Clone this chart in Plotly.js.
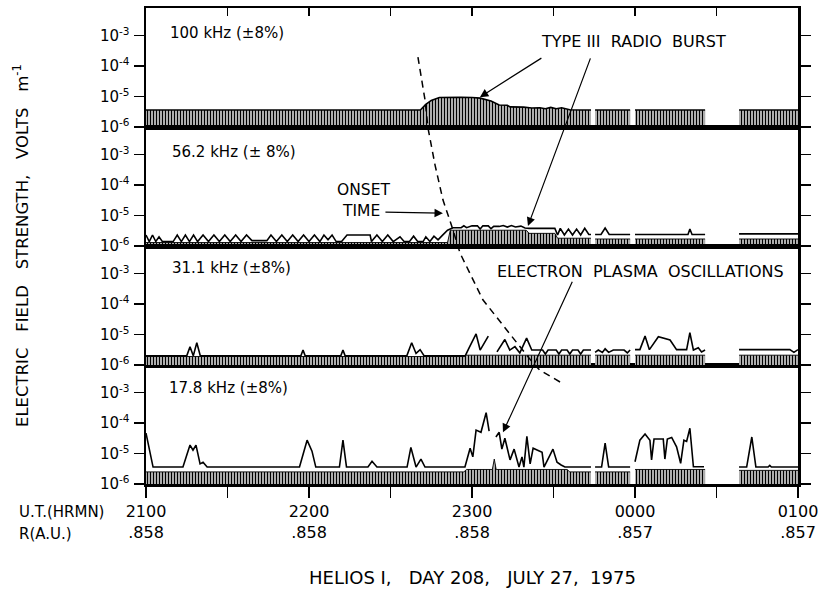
<!DOCTYPE html>
<html>
<head>
<meta charset="utf-8">
<script src="https://cdn.plot.ly/plotly-3.0.1.min.js"></script>
<style>html,body{margin:0;padding:0;background:#fff;}</style>
</head>
<body>
<div id="chart" style="width:820px;height:591px;"></div>
<script>
// ---- DATA (time = minutes after 2100 UT; values in V/m) ----
const UT_LABELS = ['2100', '2200', '2300', '0000', '0100'];
const R_LABELS = ['.858', '.858', '.858', '.857', '.857'];
const PANEL_LABELS = ['100 kHz (±8%)', '56.2 kHz (± 8%)', '31.1 kHz (±8%)', '17.8 kHz (±8%)'];

// 100 kHz : average (hatched) = peak outline
const AV_100 = [[0,3.6e-6],[40,3.6e-6],[80,3.6e-6],[101,3.6e-6],[103,5.5e-6],[105,7.5e-6],[108,9.3e-6],[112,9.6e-6],[116,9.5e-6],[120,9.3e-6],[123,8.9e-6],[127,7.2e-6],[130,5.3e-6],[133,5.2e-6],[134,4.6e-6],[139,4.5e-6],[142,4.2e-6],[145,4.3e-6],[147,4.0e-6],[149,4.4e-6],[151,4.0e-6],[153,4.3e-6],[156,3.7e-6],[160,3.6e-6],[163.8,3.6e-6],[null,null],[165.3,3.6e-6],[178.2,3.6e-6],[null,null],[180,3.6e-6],[205.8,3.6e-6],[null,null],[218.3,3.6e-6],[240,3.6e-6]];

// 56.2 kHz
const PK_56 = [[0,2.3e-6],[1.2,1.4e-6],[2.4,2.3e-6],[3.6,1.4e-6],[4.8,2.0e-6],[6,1.4e-6],[10,1.4e-6],[11.5,2.3e-6],[13,1.4e-6],[14.5,2.3e-6],[16,1.4e-6],[17.5,2.3e-6],[19,1.4e-6],[21,2.3e-6],[23,1.4e-6],[25,2.3e-6],[27,1.4e-6],[29,2.3e-6],[31,1.4e-6],[33,2.3e-6],[35,1.4e-6],[37,2.3e-6],[39,1.5e-6],[44.5,1.5e-6],[46,2.3e-6],[48,1.4e-6],[50,2.3e-6],[52,1.4e-6],[54,2.3e-6],[56,1.4e-6],[58,2.3e-6],[60,1.4e-6],[62,2.3e-6],[64,1.4e-6],[65.5,2.3e-6],[67,1.6e-6],[68.5,2.3e-6],[70,1.4e-6],[72,1.4e-6],[74,2.3e-6],[82.5,2.3e-6],[83,1.4e-6],[85,2.3e-6],[87,1.4e-6],[89,2.3e-6],[91,1.4e-6],[93.5,2.0e-6],[95,1.4e-6],[97,1.4e-6],[98.5,2.1e-6],[100,1.4e-6],[102,1.4e-6],[103,2.0e-6],[104.5,1.4e-6],[106,2.1e-6],[107.5,1.6e-6],[109,2.2e-6],[111,3.3e-6],[113,4.0e-6],[116,4.0e-6],[117,4.6e-6],[118,4.0e-6],[120,4.6e-6],[122,4.6e-6],[123,3.6e-6],[124,4.6e-6],[126,4.6e-6],[127,3.7e-6],[128,4.4e-6],[130,4.4e-6],[131.5,4.7e-6],[133,4.2e-6],[134.5,4.7e-6],[136,4.2e-6],[138,4.5e-6],[139.5,3.9e-6],[141,3.8e-6],[150.5,3.8e-6],[151.5,2.3e-6],[152.5,3.8e-6],[154,2.3e-6],[155.5,3.6e-6],[157,2.3e-6],[158.5,3.6e-6],[160,2.3e-6],[161.5,3.8e-6],[163,2.4e-6],[163.8,2.4e-6],[null,null],[165.3,2.4e-6],[167.5,2.4e-6],[169,3.9e-6],[170.5,2.4e-6],[178.2,2.4e-6],[null,null],[180,2.4e-6],[199.5,2.4e-6],[200.2,3.6e-6],[201,2.4e-6],[205.8,2.4e-6],[null,null],[218.3,2.5e-6],[240,2.5e-6]];
const AV_56 = [[0,1.3e-6],[111,1.3e-6],[112,3.3e-6],[140,3.3e-6],[141,2.6e-6],[150.5,2.6e-6],[151.5,1.8e-6],[163.8,1.8e-6],[null,null],[165.3,1.7e-6],[178.2,1.7e-6],[null,null],[180,1.7e-6],[205.8,1.7e-6],[null,null],[218.3,1.7e-6],[240,1.7e-6]];

// 31.1 kHz
const PK_31 = [[0,2.0e-6],[15,2.0e-6],[16.2,4.0e-6],[17.4,2.0e-6],[18.7,5.4e-6],[20,2.0e-6],[57,2.0e-6],[57.8,3.1e-6],[58.6,2.0e-6],[71.7,2.0e-6],[72.5,3.1e-6],[73.3,2.0e-6],[96,2.0e-6],[97.8,5.4e-6],[99.4,2.4e-6],[100.9,3.2e-6],[102.4,2.0e-6],[117.5,2.0e-6],[118.7,3.3e-6],[121.5,1.05e-5],[123,3.1e-6],[126,8.9e-6],[null,null],[129.2,2.7e-6],[132.1,6.9e-6],[133.9,3.1e-6],[135.8,4.0e-6],[137.6,2.5e-6],[140.1,7.6e-6],[142,3.1e-6],[146,3.1e-6],[147,2.3e-6],[148,3.1e-6],[151,3.1e-6],[152,2.3e-6],[153,3.1e-6],[155,3.1e-6],[156,2.3e-6],[157,3.1e-6],[159,3.1e-6],[160,2.3e-6],[161,3.1e-6],[163.8,3.1e-6],[null,null],[165.3,2.6e-6],[166.5,3.1e-6],[168,2.6e-6],[169,3.4e-6],[170.3,2.6e-6],[172,3.1e-6],[176,3.1e-6],[177.2,2.5e-6],[178.2,3.1e-6],[null,null],[180,3.2e-6],[181.8,3.2e-6],[183.7,8.9e-6],[185.3,3.2e-6],[188.6,8.5e-6],[190.4,7.6e-6],[192.9,6.6e-6],[195.3,3.2e-6],[199,3.2e-6],[200.2,1.15e-5],[201.5,3.1e-6],[203.3,3.7e-6],[204.5,2.7e-6],[205.8,3.1e-6],[null,null],[218.3,3.2e-6],[237,3.2e-6],[238.5,2.6e-6],[240,3.2e-6]];
const AV_31 = [[0,1.9e-6],[117,1.9e-6],[118,2.1e-6],[163.8,2.1e-6],[null,null],[165.3,2.1e-6],[178.2,2.1e-6],[null,null],[180,2.1e-6],[205.8,2.1e-6],[null,null],[218.3,2.1e-6],[240,2.1e-6]];

// 17.8 kHz
const PK_17 = [[0,4.7e-5],[1.2,1.5e-5],[2.6,3.6e-6],[13.6,3.6e-6],[16.2,1.9e-5],[17.3,1.3e-5],[18.4,1.9e-5],[19.9,4.6e-6],[21,5.2e-6],[22.5,3.6e-6],[56.5,3.6e-6],[59.3,2.75e-5],[61.1,1.2e-5],[62.5,3.6e-6],[71.2,3.6e-6],[72.5,2.75e-5],[73.8,3.6e-6],[81.7,3.6e-6],[83.2,5.6e-6],[85,3.6e-6],[96.1,3.6e-6],[97.5,1.6e-5],[99.4,3.6e-6],[101.2,6.6e-6],[102.7,3.6e-6],[117.4,3.6e-6],[119.3,1.5e-5],[120.3,7.8e-6],[121.5,5.9e-5],[123.3,5.0e-5],[125.2,2.2e-4],[126.3,5.5e-5],[null,null],[128.8,3.5e-5],[130,5.0e-5],[131,1.4e-5],[132.1,3.2e-5],[134,6.2e-6],[135.5,1.4e-5],[137.3,3.6e-6],[138.4,7.8e-6],[139.1,3.6e-6],[140.2,3.7e-5],[141.4,4.6e-6],[142.5,1.5e-5],[145.8,1.1e-5],[146.5,3.6e-6],[149.8,1.4e-5],[151.3,5.2e-6],[152.8,4.2e-6],[154.2,3.6e-6],[163.8,3.6e-6],[null,null],[165.3,3.6e-6],[167.7,3.6e-6],[169,2.2e-5],[170.3,3.6e-6],[178.2,3.6e-6],[null,null],[180,5.4e-6],[181.8,2.75e-5],[183.7,4.4e-5],[185.5,2.75e-5],[186.1,6.2e-6],[187,3.0e-5],[190.4,3.0e-5],[191,6.6e-6],[191.9,3.0e-5],[193.5,3.4e-5],[195.3,1.66e-5],[196.8,4.8e-6],[198,2.75e-5],[199,2.5e-5],[200.2,6.8e-5],[201.5,3.7e-6],[205.4,3.7e-6],[null,null],[218.3,3.6e-6],[221.1,3.6e-6],[223,3.5e-5],[224.5,3.6e-6],[229,3.6e-6],[229.6,4.1e-6],[230.2,3.6e-6],[240,3.6e-6]];
const AV_17 = [[0,2.5e-6],[117,2.5e-6],[118,3.0e-6],[127.5,3.0e-6],[128.2,6.6e-6],[128.9,3.0e-6],[155,3.0e-6],[156,2.5e-6],[163.8,2.5e-6],[null,null],[165.3,2.5e-6],[178.2,2.5e-6],[null,null],[180,3.0e-6],[205.8,3.0e-6],[null,null],[218.3,2.8e-6],[240,2.8e-6]];

// dashed onset-time curve: (minutes, fraction of the stacked plot height)
const ONSET_CURVE = [[100.1,0.897],[102.7,0.807],[103.8,0.748],[106.4,0.670],[109.3,0.597],[113.0,0.534],[115.6,0.485],[124.0,0.387],[136.6,0.296],[142.5,0.254],[145.0,0.239],[153.1,0.212]];

// ---- BUILD ----
const FONT = 'DejaVu Sans, Liberation Sans, sans-serif';
const panels = [
  {xa:'x2', ya:'y',  av:AV_100, pk:null},
  {xa:'x3', ya:'y2', av:AV_56,  pk:PK_56},
  {xa:'x4', ya:'y3', av:AV_31,  pk:PK_31},
  {xa:'x',  ya:'y4', av:AV_17,  pk:PK_17}
];
const BASE = 1e-6;
function splitSegs(pairs){
  const segs=[]; let cur=[];
  pairs.forEach(p=>{ if(p[0]===null){ if(cur.length) segs.push(cur); cur=[]; } else cur.push(p); });
  if(cur.length) segs.push(cur);
  return segs;
}
const traces=[];
panels.forEach((p,i)=>{
  splitSegs(p.av).forEach(seg=>{
    const xs=seg.map(d=>d[0]), ys=seg.map(d=>d[1]);
    traces.push({x:[xs[0],xs[xs.length-1]], y:[BASE,BASE], xaxis:p.xa, yaxis:p.ya, mode:'lines',
      line:{width:0,color:'rgba(0,0,0,0)'}, hoverinfo:'skip', showlegend:false});
    traces.push({x:xs, y:ys, xaxis:p.xa, yaxis:p.ya, mode:'lines', fill:'tonexty',
      fillcolor:'white',
      fillpattern:{shape:'|', fgcolor:'black', bgcolor:'white', size:3, solidity:0.55},
      line:{color:'black', width: i===0?1.6:0.9}, hoverinfo:'skip', showlegend:false});
  });
  if(p.pk){
    traces.push({x:p.pk.map(d=>d[0]), y:p.pk.map(d=>d[1]), xaxis:p.xa, yaxis:p.ya, mode:'lines',
      connectgaps:false, line:{color:'black', width:1.6}, hoverinfo:'skip', showlegend:false});
  }
});

const tickVals=[], tickText=[];
for(let k=0;k<=8;k++){ tickVals.push(k*30); tickText.push(k%2===0 ? UT_LABELS[k/2]+'<br>'+R_LABELS[k/2] : ''); }

const yBase = {
  type:'log', range:[-6,-2.09], tickvals:[1e-6,1e-5,1e-4,1e-3],
  ticktext:['10<sup>-6</sup>','10<sup>-5</sup>','10<sup>-4</sup>','10<sup>-3</sup>'],
  ticks:'outside', ticklen:10, tickwidth:1.5, tickcolor:'black', mirror:'ticks',
  showline:true, linewidth:2.5, linecolor:'black', showgrid:false, zeroline:false,
  tickfont:{size:15, family:FONT, color:'black'}, ticklabelstandoff:1
};
const xBase = {range:[0,240], showgrid:false, zeroline:false, showline:true, linewidth:2.5, linecolor:'black', mirror:true};

const layout = {
  width:820, height:591, margin:{l:146,r:22,t:8,b:107},
  paper_bgcolor:'white', plot_bgcolor:'white', showlegend:false,
  font:{family:FONT, color:'black', size:14},
  xaxis: Object.assign({}, xBase, {anchor:'y4', tickvals:tickVals, ticktext:tickText, ticks:'outside', ticklen:11, tickwidth:1.5, tickcolor:'black', tickfont:{size:16, family:FONT}}),
  xaxis2: Object.assign({}, xBase, {anchor:'y', side:'top', matches:'x', tickvals:tickVals, ticks:'inside', ticklen:8, tickwidth:1.5, tickcolor:'black', showticklabels:false}),
  xaxis3: Object.assign({}, xBase, {anchor:'y2', matches:'x', ticks:'', showticklabels:false}),
  xaxis4: Object.assign({}, xBase, {anchor:'y3', matches:'x', ticks:'', showticklabels:false}),
  yaxis:  Object.assign({}, yBase, {domain:[0.75,1], anchor:'x2'}),
  yaxis2: Object.assign({}, yBase, {domain:[0.5,0.75], anchor:'x3'}),
  yaxis3: Object.assign({}, yBase, {domain:[0.25,0.5], anchor:'x4'}),
  yaxis4: Object.assign({}, yBase, {domain:[0,0.25], anchor:'x'}),
  shapes:[{type:'path', xref:'x', yref:'paper',
    path: ONSET_CURVE.map((d,i)=>(i?'L':'M')+d[0]+','+d[1]).join(' '),
    line:{color:'black', width:1.5, dash:'7px,5px'}}],
  annotations:[]
};
const ann = layout.annotations;
const panelLabelPos = [[0.034,0.9475],[0.037,0.6975],[0.037,0.4538],[0.032,0.2017]];
PANEL_LABELS.forEach((t,i)=>ann.push({xref:'paper', yref:'paper', x:panelLabelPos[i][0], y:panelLabelPos[i][1], text:t, showarrow:false, xanchor:'left', yanchor:'middle', font:{size:15}}));
ann.push({xref:'paper', yref:'paper', x:0.7477, y:0.9286, text:'TYPE III&nbsp; RADIO&nbsp; BURST', showarrow:false, xanchor:'center', yanchor:'middle', font:{size:16}});
ann.push({xref:'paper', yref:'paper', x:0.290, y:0.6176, text:'ONSET', showarrow:false, xanchor:'left', yanchor:'middle', font:{size:15.5}});
ann.push({xref:'paper', yref:'paper', x:0.2975, y:0.5735, text:'TIME', showarrow:false, xanchor:'left', yanchor:'middle', font:{size:15.5}});
ann.push({xref:'paper', yref:'paper', x:0.7577, y:0.4454, text:'ELECTRON&nbsp; PLASMA&nbsp; OSCILLATIONS', showarrow:false, xanchor:'center', yanchor:'middle', font:{size:16}});
const arrowStyle = {text:'', showarrow:true, arrowhead:2, arrowsize:1.4, arrowwidth:1.2, arrowcolor:'black'};
ann.push(Object.assign({xref:'x2', yref:'y',  x:122.9, y:-5.02, ax:63, ay:-40}, arrowStyle));
ann.push(Object.assign({xref:'x3', yref:'y2', x:140.6, y:-5.34, ax:63, ay:-169}, arrowStyle));
ann.push(Object.assign({xref:'x3', yref:'y2', x:109.3, y:-4.92, ax:-59, ay:-1}, arrowStyle));
ann.push(Object.assign({xref:'x',  yref:'y4', x:131.4, y:-4.30, ax:70, ay:-152}, arrowStyle));
// axis captions
ann.push({xref:'paper', yref:'paper', x:-0.198, y:-0.0588, text:'U.T.(HRMN)', showarrow:false, xanchor:'left', yanchor:'middle', font:{size:15}});
ann.push({xref:'paper', yref:'paper', x:-0.198, y:-0.105, text:'R(A.U.)', showarrow:false, xanchor:'left', yanchor:'middle', font:{size:15}});
ann.push({xref:'paper', yref:'paper', x:0.5, y:-0.197, text:'HELIOS I,&nbsp;&nbsp; DAY 208,&nbsp;&nbsp; JULY 27,&nbsp; 1975', showarrow:false, xanchor:'center', yanchor:'middle', font:{size:18}});
ann.push({xref:'paper', yref:'paper', x:-0.1917, y:0.5, text:'ELECTRIC&nbsp;&nbsp; FIELD&nbsp;&nbsp; STRENGTH,&nbsp;&nbsp; VOLTS&nbsp;&nbsp; m<sup>-1</sup>', textangle:-90, showarrow:false, xanchor:'center', yanchor:'middle', font:{size:16.5}});

Plotly.newPlot('chart', traces, layout, {staticPlot:true, displayModeBar:false});
</script>
</body>
</html>
